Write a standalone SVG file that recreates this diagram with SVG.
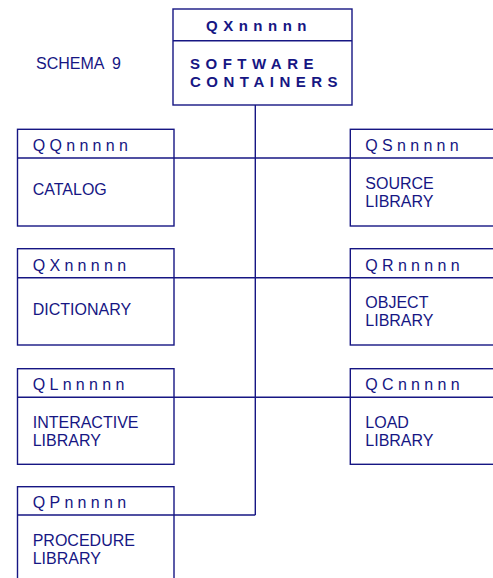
<svg xmlns="http://www.w3.org/2000/svg" width="493" height="578" viewBox="0 0 493 578">
<style>
  .box { fill: #ffffff; stroke: #161683; stroke-width: 1.4; }
  .ln { fill: none; stroke: #161683; stroke-width: 1.4; }
  .hd { font-family: "Liberation Sans", Arial, sans-serif; font-size: 16px; fill: #161683; letter-spacing: 4.3px; }
  .tx { font-family: "Liberation Sans", Arial, sans-serif; font-size: 16px; fill: #161683; }
  .bd { font-family: "Liberation Sans", Arial, sans-serif; font-size: 15px; font-weight: bold; fill: #161683; letter-spacing: 5.5px; }
</style>
<rect width="493" height="578" fill="#ffffff"/>
<text class="tx" x="36" y="69" word-spacing="4">SCHEMA 9</text>
<g id="connectors">
  <line class="ln" x1="255.3" y1="105" x2="255.3" y2="515"/>
  <line class="ln" x1="174" y1="158" x2="350.3" y2="158"/>
  <line class="ln" x1="174" y1="277.7" x2="350.3" y2="277.7"/>
  <line class="ln" x1="174" y1="397.3" x2="350.3" y2="397.3"/>
  <line class="ln" x1="174" y1="515" x2="255.3" y2="515"/>
</g>
<g id="software-containers">
  <rect class="box" x="173" y="9" width="179" height="96"/>
  <line class="ln" x1="173" y1="40.7" x2="352" y2="40.7"/>
  <text class="bd" x="206" y="30.7">QXnnnnn</text>
  <text class="bd" x="190" y="69">SOFTWARE</text>
  <text class="bd" x="190" y="87.3">CONTAINERS</text>
</g>
<g id="catalog">
  <rect class="box" x="17.5" y="129.3" width="156.5" height="96.7"/>
  <line class="ln" x1="17.5" y1="158" x2="174" y2="158"/>
  <text class="hd" x="32.7" y="151">QQnnnnn</text>
  <text class="tx" x="32.7" y="194.5">CATALOG</text>
</g>
<g id="source-library">
  <rect class="box" x="350.3" y="129.3" width="150" height="96.7"/>
  <line class="ln" x1="350.3" y1="158" x2="500" y2="158"/>
  <text class="hd" x="365.3" y="151">QSnnnnn</text>
  <text class="tx" x="365.3" y="189">SOURCE</text>
  <text class="tx" x="365.3" y="207">LIBRARY</text>
</g>
<g id="dictionary">
  <rect class="box" x="17.5" y="248.7" width="156.5" height="96.3"/>
  <line class="ln" x1="17.5" y1="277.7" x2="174" y2="277.7"/>
  <text class="hd" x="32.7" y="270.5">QXnnnnn</text>
  <text class="tx" x="32.7" y="314.5">DICTIONARY</text>
</g>
<g id="object-library">
  <rect class="box" x="350.3" y="248.7" width="150" height="96.3"/>
  <line class="ln" x1="350.3" y1="277.7" x2="500" y2="277.7"/>
  <text class="hd" x="365.3" y="270.5">QRnnnnn</text>
  <text class="tx" x="365.3" y="308.3">OBJECT</text>
  <text class="tx" x="365.3" y="326.3">LIBRARY</text>
</g>
<g id="interactive-library">
  <rect class="box" x="17.5" y="368.7" width="156.5" height="95.6"/>
  <line class="ln" x1="17.5" y1="397.3" x2="174" y2="397.3"/>
  <text class="hd" x="32.7" y="390">QLnnnnn</text>
  <text class="tx" x="32.7" y="427.5">INTERACTIVE</text>
  <text class="tx" x="32.7" y="445.5">LIBRARY</text>
</g>
<g id="load-library">
  <rect class="box" x="350.3" y="368.7" width="150" height="95.6"/>
  <line class="ln" x1="350.3" y1="397.3" x2="500" y2="397.3"/>
  <text class="hd" x="365.3" y="390">QCnnnnn</text>
  <text class="tx" x="365.3" y="427.7">LOAD</text>
  <text class="tx" x="365.3" y="445.7">LIBRARY</text>
</g>
<g id="procedure-library">
  <rect class="box" x="17.5" y="486.7" width="156.5" height="110"/>
  <line class="ln" x1="17.5" y1="515" x2="174" y2="515"/>
  <text class="hd" x="32.7" y="508">QPnnnnn</text>
  <text class="tx" x="32.7" y="545.7">PROCEDURE</text>
  <text class="tx" x="32.7" y="563.7">LIBRARY</text>
</g>
</svg>
